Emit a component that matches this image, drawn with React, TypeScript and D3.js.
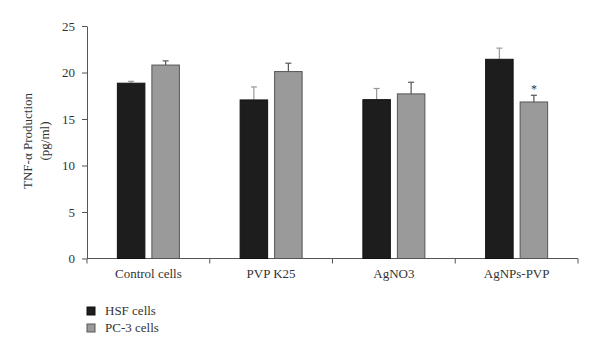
import * as d3 from "d3";
import { useEffect, useRef } from "react";

const categories = ["Control cells", "PVP K25", "AgNO3", "AgNPs-PVP"];
const seriesNames = ["HSF cells", "PC-3 cells"];
const hsfValues = [18.85, 17.05, 17.08, 21.42];
const hsfErrors = [0.2, 1.4, 1.2, 1.2];
const pc3Values = [20.8, 20.1, 17.7, 16.83];
const pc3Errors = [0.45, 0.9, 1.25, 0.72];
const yTicks = [0, 5, 10, 15, 20, 25];
const significant = [false, false, false, true]; // PC-3 asterisk

const fills = ["#1d1d1d", "#9a9a9a"];
const strokes = ["#111", "#555"];
const errColors = ["#999", "#555"];

const FONT = "'Liberation Serif', 'Times New Roman', serif";

export default function App() {
  const svgRef = useRef<SVGSVGElement | null>(null);

  useEffect(() => {
    const svg = d3.select(svgRef.current);
    svg.selectAll("*").remove();

    const left = 87, right = 578, top = 26, bottom = 258.5;

    const x = d3.scaleBand().domain(categories).range([left, right]).padding(0);
    const y = d3.scaleLinear().domain([0, 25]).range([bottom, top]);

    // y axis
    const yAxis = svg.append("g")
      .attr("transform", `translate(${left},0)`)
      .call(d3.axisLeft(y).tickValues(yTicks).tickSize(5).tickSizeOuter(0));
    yAxis.select(".domain").attr("stroke", "#555");
    yAxis.selectAll(".tick line").attr("stroke", "#555");
    yAxis.selectAll(".tick text")
      .attr("font-family", FONT).attr("font-size", 13).attr("fill", "#333")
      .attr("x", -12);

    // x axis with ticks at band edges
    svg.append("line")
      .attr("x1", left).attr("x2", right).attr("y1", bottom).attr("y2", bottom)
      .attr("stroke", "#555");
    const edges = categories.map((c) => x(c)!).concat([right]);
    svg.selectAll(".xtick").data(edges).join("line")
      .attr("x1", (d) => d).attr("x2", (d) => d)
      .attr("y1", bottom).attr("y2", bottom + 5)
      .attr("stroke", "#555");
    svg.selectAll(".xlabel").data(categories).join("text")
      .attr("x", (d) => x(d)! + x.bandwidth() / 2)
      .attr("y", bottom + 19.5)
      .attr("text-anchor", "middle")
      .attr("font-family", FONT).attr("font-size", 13).attr("fill", "#333")
      .text((d) => d);

    // y label
    const lab = svg.append("text")
      .attr("transform", `translate(32,141) rotate(-90)`)
      .attr("text-anchor", "middle")
      .attr("font-family", FONT).attr("font-size", 13).attr("fill", "#333");
    lab.append("tspan").attr("x", 0).attr("dy", 0).text("TNF-α Production");
    lab.append("tspan").attr("x", 0).attr("dy", 17).text("(pg/ml)");

    // bars
    const barW = 27.5, gap = 7;
    const series = [
      { values: hsfValues, errors: hsfErrors },
      { values: pc3Values, errors: pc3Errors },
    ];
    series.forEach((s, si) => {
      const offset = si === 0 ? -gap / 2 - barW : gap / 2;
      const cx = (i: number) => x(categories[i])! + x.bandwidth() / 2 + offset;
      const g = svg.append("g");
      // error bars
      g.selectAll(".err").data(s.values).join("line")
        .attr("x1", (_, i) => cx(i) + barW / 2).attr("x2", (_, i) => cx(i) + barW / 2)
        .attr("y1", (d) => y(d)).attr("y2", (d, i) => y(d + s.errors[i]))
        .attr("stroke", errColors[si]).attr("stroke-width", 1.2);
      g.selectAll(".cap").data(s.values).join("line")
        .attr("x1", (_, i) => cx(i) + barW / 2 - 3).attr("x2", (_, i) => cx(i) + barW / 2 + 3)
        .attr("y1", (d, i) => y(d + s.errors[i])).attr("y2", (d, i) => y(d + s.errors[i]))
        .attr("stroke", errColors[si]).attr("stroke-width", 1.2);
      g.selectAll("rect").data(s.values).join("rect")
        .attr("x", (_, i) => cx(i))
        .attr("width", barW)
        .attr("y", (d) => y(d))
        .attr("height", (d) => y(0) - y(d))
        .attr("fill", fills[si])
        .attr("stroke", strokes[si]).attr("stroke-width", 1);
      if (si === 1) {
        g.selectAll(".star").data(s.values).join("text")
          .filter((_, i) => significant[i])
          .attr("x", (_, i) => cx(3) + barW / 2)
          .attr("y", (d) => y(d + pc3Errors[3]) - 2)
          .attr("text-anchor", "middle")
          .attr("font-family", FONT).attr("font-size", 12).attr("fill", "#333")
          .text("*");
      }
    });

    // legend
    const lg = svg.append("g").attr("transform", "translate(87,307)");
    seriesNames.forEach((n, i) => {
      lg.append("rect").attr("x", 0).attr("y", i * 17).attr("width", 8).attr("height", 8)
        .attr("fill", fills[i]).attr("stroke", strokes[i]);
      lg.append("text").attr("x", 18).attr("y", i * 17 + 8)
        .attr("font-family", FONT).attr("font-size", 13).attr("fill", "#333")
        .text(n);
    });
  }, []);

  return (
    <svg ref={svgRef} width={600} height={354}
      style={{ position: "absolute", left: 0, top: 0, background: "#fff" }} />
  );
}
